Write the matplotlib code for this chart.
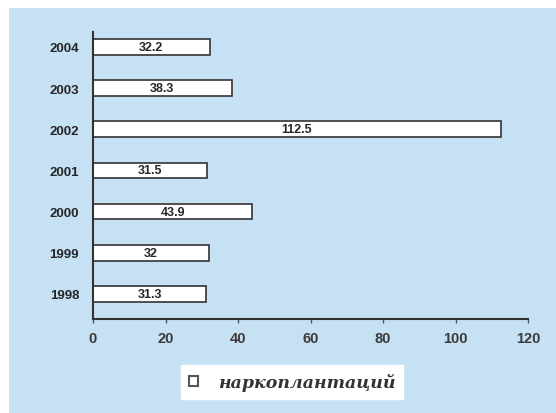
import matplotlib

matplotlib.use("Agg")
import matplotlib.pyplot as plt
from matplotlib.patches import Rectangle

years = ["1998", "1999", "2000", "2001", "2002", "2003", "2004"]
values = [31.3, 32, 43.9, 31.5, 112.5, 38.3, 32.2]
value_labels = ["31.3", "32", "43.9", "31.5", "112.5", "38.3", "32.2"]
x_ticks = [0, 20, 40, 60, 80, 100, 120]
legend_label = "наркоплантаций"

BG = "#c6e0f4"
INK = "#262626"

fig = plt.figure(figsize=(5.56, 4.14), dpi=100)
fig.patch.set_facecolor("white")
# light blue panel, leaving a thin white strip on top and left
fig.add_artist(Rectangle((9 / 556, 0), 1 - 9 / 556, 1 - 9 / 414, transform=fig.transFigure,
                         facecolor=BG, edgecolor="none", zorder=0))

ax = fig.add_axes([93 / 556, 1 - 320 / 414, 435 / 556, 287 / 414])
ax.set_facecolor("none")

pos = list(range(len(years)))
bars = ax.barh(pos, values, height=0.38, color="white", edgecolor="#333333",
               linewidth=1.2, label=legend_label)

for b, txt in zip(bars, value_labels):
    ax.text(b.get_width() / 2, b.get_y() + b.get_height() / 2, txt,
            ha="center", va="center", fontsize=9, fontweight="bold", color=INK,
            family="Liberation Sans")

ax.set_xlim(0, 120)
ax.set_ylim(-0.61, 6.36)
ax.set_xticks(x_ticks)
ax.set_xticklabels([str(t) for t in x_ticks], fontsize=10.5, fontweight="bold",
                   color="#3a3a3a", family="Liberation Sans")
ax.set_yticks(pos)
ax.set_yticklabels(years, fontsize=9.5, fontweight="bold", color=INK,
                   family="Liberation Sans")
ax.tick_params(axis="y", length=0, pad=10)
ax.tick_params(axis="x", length=3, width=1, color="#555555", pad=6)

for side in ("top", "right"):
    ax.spines[side].set_visible(False)
for side in ("left", "bottom"):
    ax.spines[side].set_color("#333333")
    ax.spines[side].set_linewidth(1.5)

leg = ax.legend(loc="center", bbox_to_anchor=(292 / 556, 1 - 383 / 414),
                bbox_transform=fig.transFigure, frameon=True, fancybox=False,
                handlelength=0.55, handleheight=0.55, handletextpad=1.1,
                borderpad=0.45, borderaxespad=0,
                prop={"family": "DejaVu Serif", "style": "italic",
                      "weight": "bold", "size": 12.5})
leg.get_frame().set_facecolor("white")
leg.get_frame().set_edgecolor("white")
leg.get_frame().set_alpha(1)
for t in leg.get_texts():
    t.set_color("#333333")
leg.legend_handles[0].set_edgecolor("#555555")
leg.legend_handles[0].set_linewidth(1.5)

fig.savefig("out.png", dpi=100, facecolor=fig.get_facecolor())
plt.close(fig)
